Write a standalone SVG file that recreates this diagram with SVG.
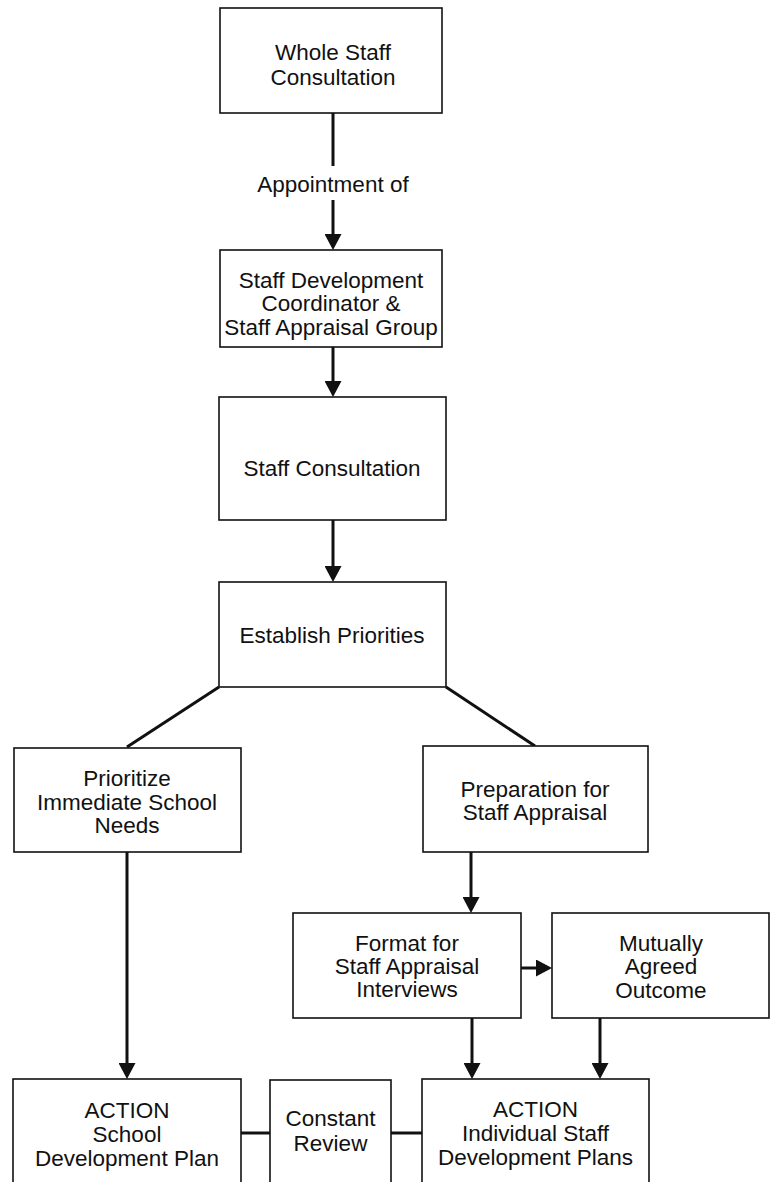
<svg xmlns="http://www.w3.org/2000/svg" width="771" height="1182" viewBox="0 0 771 1182">
  <style>
    .box { fill: #ffffff; stroke: #111111; stroke-width: 1.6; }
    .lbl { font-family: "Liberation Sans", Arial, sans-serif; font-size: 22.5px; fill: #111111; text-anchor: middle; }
    .wire { stroke: #111111; stroke-width: 3; fill: none; }
    .arrow { stroke: #111111; stroke-width: 3; fill: none; marker-end: url(#head); }
  </style>
  <defs>
    <marker id="head" viewBox="0 0 16 17" refX="0" refY="8.5" markerWidth="16" markerHeight="17" markerUnits="userSpaceOnUse" orient="auto">
      <path d="M0,0 L16,8.5 L0,17 z" fill="#111111"/>
    </marker>
  </defs>
  <rect width="771" height="1182" fill="#ffffff"/>

  <!-- connectors -->
  <g id="connectors">
    <line class="wire" x1="333" y1="113" x2="333" y2="166"/>
    <text class="lbl" x="333" y="192">Appointment of</text>
    <line class="arrow" x1="333" y1="200" x2="333" y2="234"/>
    <line class="arrow" x1="333" y1="347" x2="333" y2="381"/>
    <line class="arrow" x1="333" y1="520" x2="333" y2="566"/>
    <line class="wire" x1="219" y1="687" x2="127" y2="747"/>
    <line class="wire" x1="446" y1="687" x2="535" y2="746"/>
    <line class="arrow" x1="127" y1="852" x2="127" y2="1063"/>
    <line class="arrow" x1="471" y1="852" x2="471" y2="897"/>
    <line class="arrow" x1="521" y1="968" x2="536" y2="968"/>
    <line class="arrow" x1="472" y1="1018" x2="472" y2="1063"/>
    <line class="arrow" x1="600" y1="1018" x2="600" y2="1063"/>
    <line class="wire" x1="241" y1="1133" x2="270" y2="1133"/>
    <line class="wire" x1="391" y1="1133" x2="422" y2="1133"/>
  </g>

  <g id="whole-staff">
    <rect class="box" x="220" y="8" width="222" height="105"/>
    <text class="lbl" x="333" y="60">Whole Staff</text>
    <text class="lbl" x="333" y="85">Consultation</text>
  </g>

  <g id="coordinator">
    <rect class="box" x="220" y="250" width="222" height="97"/>
    <text class="lbl" x="331" y="288">Staff Development</text>
    <text class="lbl" x="331" y="311">Coordinator &amp;</text>
    <text class="lbl" x="331" y="335">Staff Appraisal Group</text>
  </g>

  <g id="staff-consultation">
    <rect class="box" x="219" y="397" width="227" height="123"/>
    <text class="lbl" x="332" y="476">Staff Consultation</text>
  </g>

  <g id="priorities">
    <rect class="box" x="219" y="582" width="227" height="105"/>
    <text class="lbl" x="332" y="643">Establish Priorities</text>
  </g>

  <g id="school-needs">
    <rect class="box" x="14" y="748" width="227" height="104"/>
    <text class="lbl" x="127" y="786">Prioritize</text>
    <text class="lbl" x="127" y="810">Immediate School</text>
    <text class="lbl" x="127" y="833">Needs</text>
  </g>

  <g id="appraisal-prep">
    <rect class="box" x="423" y="746" width="225" height="106"/>
    <text class="lbl" x="535" y="797">Preparation for</text>
    <text class="lbl" x="535" y="820">Staff Appraisal</text>
  </g>

  <g id="interview-format">
    <rect class="box" x="293" y="913" width="228" height="105"/>
    <text class="lbl" x="407" y="951">Format for</text>
    <text class="lbl" x="407" y="974">Staff Appraisal</text>
    <text class="lbl" x="407" y="997">Interviews</text>
  </g>

  <g id="agreed-outcome">
    <rect class="box" x="552" y="913" width="217" height="105"/>
    <text class="lbl" x="661" y="951">Mutually</text>
    <text class="lbl" x="661" y="974">Agreed</text>
    <text class="lbl" x="661" y="998">Outcome</text>
  </g>

  <g id="school-plan">
    <rect class="box" x="13" y="1079" width="228" height="120"/>
    <text class="lbl" x="127" y="1118">ACTION</text>
    <text class="lbl" x="127" y="1142">School</text>
    <text class="lbl" x="127" y="1166">Development Plan</text>
  </g>

  <g id="review">
    <rect class="box" x="270" y="1080" width="121" height="120"/>
    <text class="lbl" x="330.5" y="1126">Constant</text>
    <text class="lbl" x="330.5" y="1151">Review</text>
  </g>

  <g id="individual-plans">
    <rect class="box" x="422" y="1079" width="227" height="120"/>
    <text class="lbl" x="535.5" y="1117">ACTION</text>
    <text class="lbl" x="535.5" y="1141">Individual Staff</text>
    <text class="lbl" x="535.5" y="1165">Development Plans</text>
  </g>
</svg>
